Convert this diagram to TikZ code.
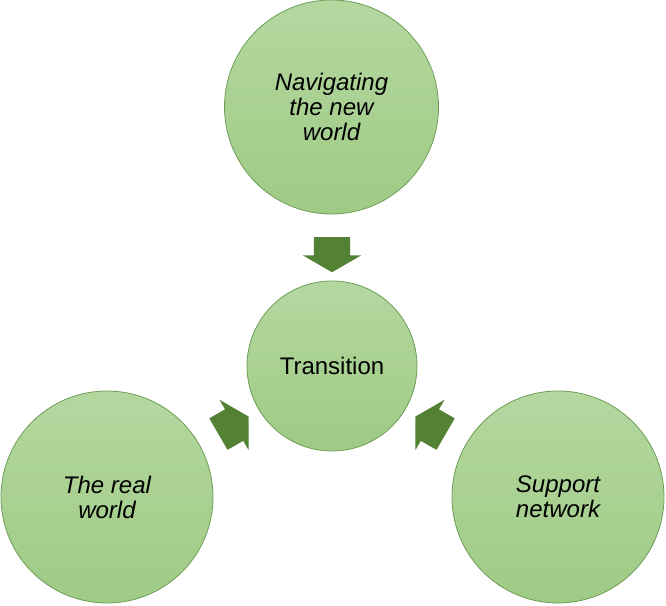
\documentclass[tikz,border=0pt]{standalone}
\usepackage{fontspec}
\setmainfont{Liberation Sans}
\usepackage{xcolor}
\usepackage{tikz}
\usetikzlibrary{shapes.arrows,positioning}

\definecolor{leafhi}{HTML}{B4D7A0}
\definecolor{leaflo}{HTML}{9FCB85}
\definecolor{leafline}{HTML}{6E9E55}
\definecolor{leafdark}{HTML}{548235}

\begin{document}
\begin{tikzpicture}[
  x=1pt, y=1pt,
  bubble/.style={circle, draw=leafline, line width=0.8pt, top color=leafhi,
                 bottom color=leaflo, align=center, inner sep=0pt,
                 font=\fontsize{24}{25}\selectfont, text=black},
  theme/.style={bubble, font=\fontsize{24}{25}\selectfont\itshape},
  push/.style={single arrow, fill=leafdark, draw=none, inner xsep=0pt,
               inner ysep=18pt, minimum height=35pt,
               single arrow head extend=11pt, single arrow tip angle=120}
]
\useasboundingbox (0,0) rectangle (666,605);
\node[bubble, minimum size=170pt] (transition) at (332,239) {Transition};
\node[theme, minimum size=214pt] (newworld) at (331.5,498) {Navigating\\the new\\world};
\node[theme, minimum size=212pt] (realworld) at (107,108) {The real\\world};
\node[theme, minimum size=212pt] (support) at (558,108) {Support\\network};
\node[push, rotate=-90] (fromnew) at (332,355.5) {};
\node[push, rotate=30] (fromreal) at (229,177) {};
\node[push, rotate=150] (fromsupport) at (435,177) {};
\end{tikzpicture}
\end{document}
